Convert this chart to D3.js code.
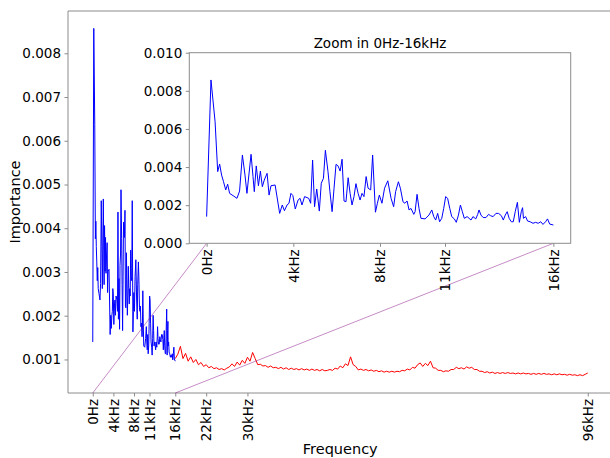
<!DOCTYPE html>
<html>
<head>
<meta charset="utf-8">
<title>Importance by frequency</title>
<script src="https://cdn.jsdelivr.net/npm/d3@7"></script>
<style>
  body { margin: 0; background: #fff; }
  text { font-family: "DejaVu Sans", sans-serif; fill: #000; }
</style>
</head>
<body>
<script>
// blue part: 0 - 16 kHz (kHz, importance x 1000)
var lowFreq = [0, 0.2, 0.39, 0.51, 0.6, 0.69, 0.78, 0.88, 0.97, 1.06, 1.22, 1.4, 1.52, 1.65, 1.77, 1.86,
  2.05, 2.14, 2.2, 2.29, 2.39, 2.48, 2.57, 2.66, 2.79, 2.88, 2.97, 3.16, 3.37, 3.49, 3.59, 3.71, 3.8, 3.89, 3.98,
  4.09, 4.22, 4.31, 4.4, 4.52, 4.71, 4.8, 4.89, 4.98, 5.08, 5.2, 5.29, 5.39, 5.48, 5.6, 5.69, 5.79, 5.88, 5.97,
  6.06, 6.16, 6.25, 6.34, 6.43, 6.53, 6.62, 6.71, 6.8, 6.89, 6.99, 7.08, 7.17, 7.26, 7.36, 7.45, 7.57, 7.66, 7.79,
  7.88, 7.97, 8.09, 8.21, 8.36, 8.51, 8.63, 8.72, 8.85, 8.94, 9.06, 9.15, 9.25, 9.34, 9.43, 9.56, 9.62, 9.71, 9.8,
  9.89, 10.08, 10.26, 10.39, 10.48, 10.57, 10.66, 10.75, 10.85, 10.94, 11.03, 11.12, 11.22, 11.31, 11.43, 11.52,
  11.62, 11.71, 11.8, 11.89, 12.02, 12.11, 12.2, 12.29, 12.42, 12.51, 12.57, 12.66, 12.76, 12.89, 13.01, 13.1,
  13.22, 13.35, 13.47, 13.6, 13.69, 13.78, 13.87, 13.96, 14.06, 14.15, 14.24, 14.34, 14.43, 14.52, 14.58, 14.62,
  14.72, 14.81, 14.93, 15.06, 15.18, 15.3, 15.42, 15.52, 15.64, 15.73, 15.83, 16];
var lowImp = [1.40, 8.57, 6.38, 3.76, 4.16, 3.58, 3.23, 2.80, 3.10, 2.62, 2.50, 2.36, 2.74, 4.63, 3.58, 2.62,
  4.67, 3.50, 2.71, 4.06, 3.02, 3.79, 2.97, 3.32, 3.67, 2.53, 3.02, 3.06, 1.57, 2.01, 1.71, 2.01, 2.10, 2.62, 2.50,
  1.80, 2.27, 2.36, 2.01, 2.45, 2.36, 2.10, 4.37, 1.92, 2.85, 1.69, 3.15, 3.41, 4.88, 3.76, 2.71, 1.66, 2.89, 4.14,
  4.07, 3.79, 4.41, 2.22, 2.18, 3.44, 2.62, 2.01, 2.45, 3.13, 2.62, 2.27, 2.62, 2.45, 3.50, 2.89, 2.80, 4.63, 1.63,
  2.10, 2.53, 2.10, 2.89, 3.28, 2.36, 1.92, 2.71, 3.23, 2.89, 2.18, 2.10, 2.22, 1.75, 1.83, 1.52, 1.66, 2.57, 1.83,
  1.31, 1.28, 1.48, 1.75, 1.40, 1.22, 1.57, 1.13, 1.31, 1.83, 2.45, 2.36, 1.83, 1.40, 1.28, 1.10,
  1.48, 2.01, 1.66, 1.31, 1.40, 1.31, 1.22, 1.40, 1.28, 1.52, 1.75, 1.48, 1.35, 1.35, 1.52, 1.45,
  1.40, 1.57, 1.57, 1.45, 1.22, 1.48, 1.66, 1.31, 1.13, 1.13, 1.66, 2.15, 1.10, 1.66, 1.87, 1.31,
  1.40, 1.17, 1.13, 1.05, 1.10, 1.05, 1.13, 0.99, 1.13, 1.28, 1.01, 0.96];

// red part: 16 - 96 kHz, one value every 0.5 kHz (importance x 1000)
var highStart = 16, highStep = 0.5;
var highImp = [
  1.02, 1.12, 1.30, 1.02, 1.14, 0.96, 1.06, 0.93, 1.00, 0.88, 0.93, 0.84, 0.88, 0.81, 0.84, 0.79,
  0.81, 0.77, 0.79, 0.76, 0.80, 0.83, 0.90, 0.84, 0.94, 0.87, 0.98, 0.91, 1.05, 0.96, 1.16, 1.02,
  0.88, 0.89, 0.85, 0.86, 0.82, 0.85, 0.81, 0.82, 0.79, 0.82, 0.78, 0.81, 0.77, 0.80, 0.77, 0.79,
  0.76, 0.79, 0.76, 0.78, 0.75, 0.78, 0.75, 0.77, 0.74, 0.77, 0.74, 0.75, 0.77, 0.75, 0.80, 0.78,
  0.85, 0.81, 0.90, 0.86, 1.06, 0.88, 0.84, 0.76, 0.78, 0.75, 0.77, 0.74, 0.76, 0.73, 0.75, 0.72,
  0.74, 0.71, 0.73, 0.71, 0.73, 0.71, 0.73, 0.72, 0.75, 0.74, 0.78, 0.76, 0.82, 0.80, 0.88, 0.92,
  0.84, 0.91, 0.86, 0.96, 0.81, 0.80, 0.75, 0.75, 0.72, 0.74, 0.73, 0.77, 0.77, 0.82, 0.79, 0.81,
  0.78, 0.83, 0.80, 0.82, 0.77, 0.77, 0.73, 0.73, 0.70, 0.72, 0.69, 0.71, 0.68, 0.70, 0.68, 0.70,
  0.68, 0.70, 0.68, 0.69, 0.67, 0.69, 0.67, 0.69, 0.67, 0.68, 0.66, 0.68, 0.66, 0.68, 0.66, 0.68,
  0.66, 0.67, 0.65, 0.67, 0.65, 0.67, 0.65, 0.66, 0.64, 0.66, 0.64, 0.65, 0.63, 0.65, 0.63, 0.66,
  0.69];

var mainTickKHz = [0, 4, 8, 11, 16, 22, 30, 96];
var mainTickLabels = ["0Hz", "4kHz", "8kHz", "11kHz", "16kHz", "22kHz", "30kHz", "96kHz"];
var zoomTickKHz = [0, 4, 8, 11, 16];
var zoomTickLabels = ["0Hz", "4kHz", "8kHz", "11kHz", "16kHz"];
var mainYTicks = [0.001, 0.002, 0.003, 0.004, 0.005, 0.006, 0.007, 0.008];
var zoomYTicks = [0, 0.002, 0.004, 0.006, 0.008, 0.010];

var low = lowFreq.map(function(f, i) { return {f: f, v: lowImp[i] / 1000}; });
var high = highImp.map(function(v, i) { return {f: highStart + i * highStep, v: v / 1000}; });

var width = 610, height = 458;
var spine = "#8c8c8c";
var tickFont = "13.5px";

var svg = d3.select("body").append("svg")
    .attr("width", width)
    .attr("height", height);

// main axes box
var m = {left: 68, top: 11, right: 612.5, bottom: 393};

// 5% margins like matplotlib
var allV = low.concat(high).map(function(d) { return d.v; });
var vMin = d3.min(allV), vMax = d3.max(allV), vPad = (vMax - vMin) * 0.05;

var x = d3.scaleLinear().domain([-4.8, 100.8]).range([m.left, m.right]);
var y = d3.scaleLinear().domain([vMin - vPad, vMax + vPad]).range([m.bottom, m.top]);

var line = d3.line()
    .x(function(d) { return x(d.f); })
    .y(function(d) { return y(d.v); });

svg.append("path").datum(high)
    .attr("fill", "none").attr("stroke", "#ff0000").attr("stroke-width", 1)
    .attr("d", line);
svg.append("path").datum(low)
    .attr("fill", "none").attr("stroke", "#0000ff").attr("stroke-width", 1)
    .attr("d", line);

// y axis
var yAxis = svg.append("g")
    .attr("transform", "translate(" + m.left + ",0)")
    .call(d3.axisLeft(y).tickValues(mainYTicks).tickSize(3.5).tickPadding(3.5)
        .tickFormat(d3.format(".3f")));
yAxis.select(".domain").remove();
yAxis.selectAll(".tick line").attr("stroke", spine);
yAxis.selectAll(".tick text").style("font-size", tickFont);

// x axis with rotated labels
var xAxis = svg.append("g")
    .attr("transform", "translate(0," + m.bottom + ")")
    .call(d3.axisBottom(x).tickValues(mainTickKHz).tickSize(3.5)
        .tickFormat(function(d, i) { return mainTickLabels[i]; }));
xAxis.select(".domain").remove();
xAxis.selectAll(".tick line").attr("stroke", spine);
xAxis.selectAll(".tick text")
    .style("font-size", tickFont)
    .attr("text-anchor", "end")
    .attr("transform", "translate(0,6) rotate(-90)")
    .attr("x", 0).attr("y", 0).attr("dy", "0.35em");

// spines (right one lies outside the picture)
svg.append("path")
    .attr("d", "M" + m.right + "," + m.top + "H" + m.left + "V" + m.bottom + "H" + m.right)
    .attr("fill", "none").attr("stroke", spine).attr("stroke-width", 1);

svg.append("text")
    .attr("x", (m.left + m.right) / 2).attr("y", 454)
    .attr("text-anchor", "middle").style("font-size", "14.5px")
    .text("Frequency");
svg.append("text")
    .attr("transform", "translate(20," + (m.top + m.bottom) / 2 + ") rotate(-90)")
    .attr("text-anchor", "middle").style("font-size", "14.5px")
    .text("Importance");

// inset
var z = {left: 189.3, top: 52.7, right: 570.7, bottom: 243.3};
var zx = d3.scaleLinear().domain([-0.8, 16.8]).range([z.left, z.right]);
var zy = d3.scaleLinear().domain([0, 0.010]).range([z.bottom, z.top]);

// connector lines from main x axis to inset
[0, 16].forEach(function(f) {
    svg.append("line")
        .attr("x1", x(f)).attr("y1", m.bottom)
        .attr("x2", zx(f)).attr("y2", zy(0))
        .attr("stroke", "purple").attr("stroke-opacity", 0.45).attr("stroke-width", 1);
});

svg.append("rect")
    .attr("x", z.left).attr("y", z.top)
    .attr("width", z.right - z.left).attr("height", z.bottom - z.top)
    .attr("fill", "#fff");

var zline = d3.line()
    .x(function(d) { return zx(d.f); })
    .y(function(d) { return zy(d.v); });
svg.append("path").datum(low)
    .attr("fill", "none").attr("stroke", "#0000ff").attr("stroke-width", 1)
    .attr("d", zline);

var zyAxis = svg.append("g")
    .attr("transform", "translate(" + z.left + ",0)")
    .call(d3.axisLeft(zy).tickValues(zoomYTicks).tickSize(3.5).tickPadding(3.5)
        .tickFormat(d3.format(".3f")));
zyAxis.select(".domain").remove();
zyAxis.selectAll(".tick line").attr("stroke", spine);
zyAxis.selectAll(".tick text").style("font-size", tickFont);

var zxAxis = svg.append("g")
    .attr("transform", "translate(0," + z.bottom + ")")
    .call(d3.axisBottom(zx).tickValues(zoomTickKHz).tickSize(3.5)
        .tickFormat(function(d, i) { return zoomTickLabels[i]; }));
zxAxis.select(".domain").remove();
zxAxis.selectAll(".tick line").attr("stroke", spine);
zxAxis.selectAll(".tick text")
    .style("font-size", tickFont)
    .attr("text-anchor", "end")
    .attr("transform", "translate(0,6) rotate(-90)")
    .attr("x", 0).attr("y", 0).attr("dy", "0.35em");

svg.append("rect")
    .attr("x", z.left).attr("y", z.top)
    .attr("width", z.right - z.left).attr("height", z.bottom - z.top)
    .attr("fill", "none").attr("stroke", spine).attr("stroke-width", 1);

svg.append("text")
    .attr("x", (z.left + z.right) / 2).attr("y", z.top - 5)
    .attr("text-anchor", "middle").style("font-size", "13.5px")
    .text("Zoom in 0Hz-16kHz");
</script>
</body>
</html>
